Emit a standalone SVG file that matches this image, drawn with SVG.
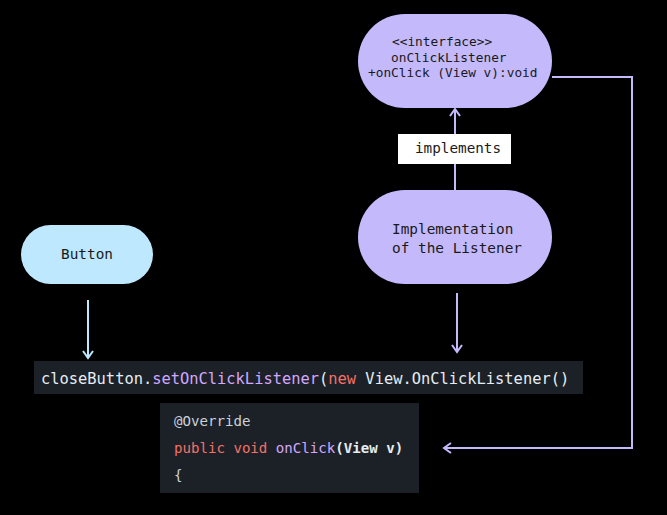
<svg xmlns="http://www.w3.org/2000/svg" width="667" height="515" viewBox="0 0 667 515">
<style>
.mono{font-family:"DejaVu Sans Mono","Liberation Mono",monospace;}
.node-text{font-size:14.4px;fill:#1a1a1a;}
.iface-text{font-size:12.8px;fill:#1a1a1a;}
.code1{font-size:15.4px;fill:#e6edf3;}
.code2{font-size:14.1px;fill:#c9d1d9;}
.kw{fill:#f47067;}
.fn{fill:#d2a8ff;}
.conn{fill:none;stroke-width:2;}
.lav{stroke:#c4b9fb;}
.blue{stroke:#bde8fd;}
</style>
<defs>
<marker id="ahL" markerWidth="12" markerHeight="12" refX="10" refY="6" orient="auto" markerUnits="userSpaceOnUse">
<path d="M3,1 L10,6 L3,11" fill="none" stroke="#c4b9fb" stroke-width="2"/>
</marker>
<marker id="ahB" markerWidth="12" markerHeight="12" refX="10" refY="6" orient="auto" markerUnits="userSpaceOnUse">
<path d="M3,1 L10,6 L3,11" fill="none" stroke="#bde8fd" stroke-width="2"/>
</marker>
</defs>
<rect width="667" height="515" fill="#000"/>

<g id="connectors">
<line class="conn lav" x1="455" y1="190" x2="455" y2="109" marker-end="url(#ahL)"/>
<line class="conn blue" x1="88" y1="300" x2="88" y2="358" marker-end="url(#ahB)"/>
<line class="conn lav" x1="457" y1="293" x2="457" y2="352" marker-end="url(#ahL)"/>
<polyline class="conn lav" points="552,77 632,77 632,448 444,448" marker-end="url(#ahL)"/>
<g id="implements-label">
<rect x="398" y="134" width="113" height="30" fill="#fff"/>
<text class="mono" x="415" y="153" font-size="14.3" fill="#1a1a1a">implements</text>
</g>
</g>

<g id="interface">
<rect x="358" y="14" width="194" height="94" rx="47" fill="#c4b9fb"/>
<text class="mono iface-text" x="392" y="46">&lt;&lt;interface&gt;&gt;</text>
<text class="mono iface-text" x="391" y="62">onClickListener</text>
<text class="mono iface-text" x="368" y="77">+onClick (View v):void</text>
</g>

<g id="implementation">
<rect x="358" y="190" width="194" height="94" rx="47" fill="#c4b9fb"/>
<text class="mono node-text" x="392" y="234">Implementation</text>
<text class="mono node-text" x="392" y="253">of the Listener</text>
</g>

<g id="button">
<rect x="21" y="225" width="132" height="59" rx="29.5" fill="#bde8fd"/>
<text class="mono node-text" x="87" y="259" text-anchor="middle">Button</text>
</g>

<g id="code-line">
<rect x="34" y="361" width="549" height="33" fill="#1c2128"/>
<text class="mono code1" x="41" y="384">closeButton.<tspan class="fn">setOnClickListener</tspan>(<tspan class="kw">new</tspan> View.OnClickListener()</text>
</g>

<g id="code-block">
<rect x="160" y="403" width="259" height="90" fill="#1c2128"/>
<text class="mono code2" x="174" y="426">@Override</text>
<text class="mono code2" x="174" y="453"><tspan class="kw">public void</tspan> <tspan class="fn">onClick</tspan><tspan fill="#e6edf3" font-weight="bold">(View v)</tspan></text>
<text class="mono code2" x="174" y="480">{</text>
</g>
</svg>
